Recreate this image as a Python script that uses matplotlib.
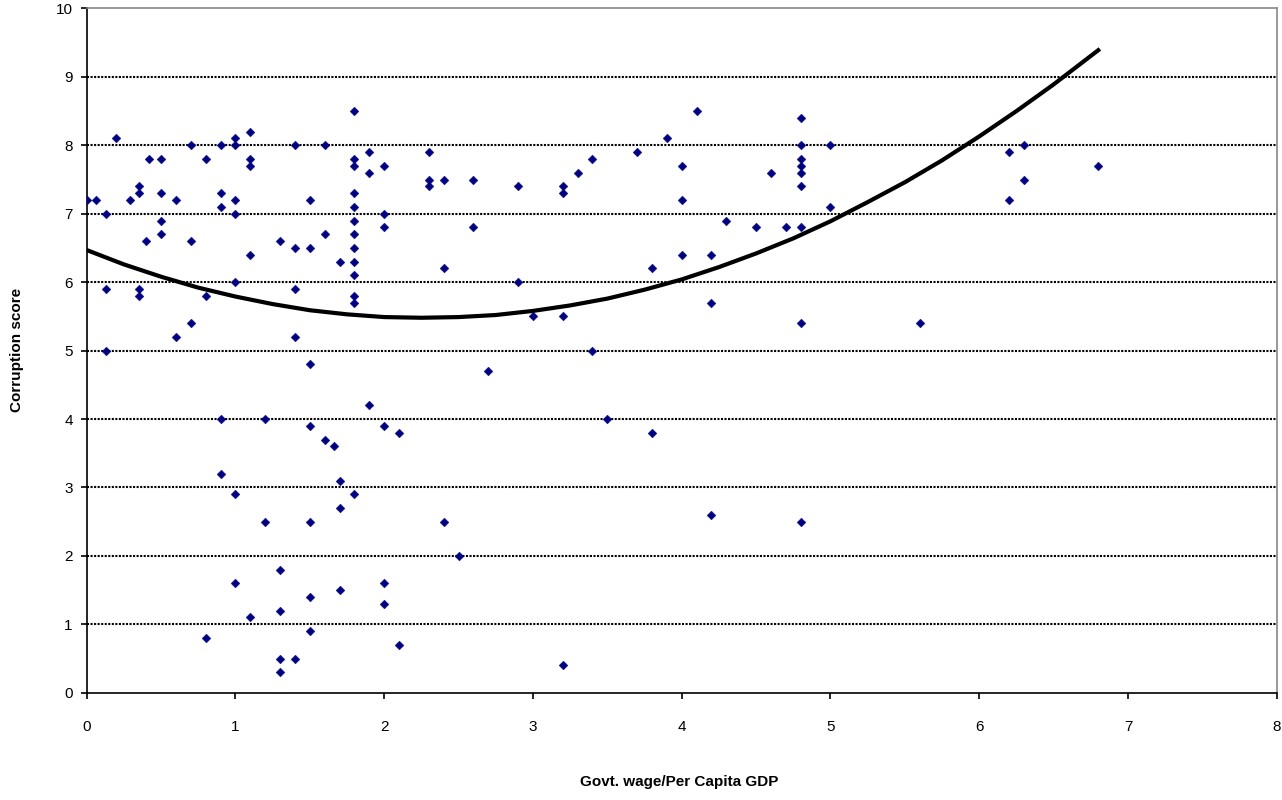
import matplotlib
matplotlib.use("Agg")
import numpy as np
from matplotlib import pyplot as plt

plt.rcParams['font.family'] = ['Liberation Sans', 'DejaVu Sans']

# scatter points (govt wage / per capita GDP, corruption score)
wage = [1.8, 0.2, 1.1, 1.0, 1.0, 0.7, 0.9, 1.4, 1.6, 1.9,
        0.42, 0.5, 0.8, 1.1, 1.1, 1.8, 1.8, 1.9, 0.35, 0.35,
        0.5, 0.9, 1.8, 0.0, 0.06, 0.29, 0.6, 1.0, 1.5, 0.13,
        0.9, 1.0, 1.8, 0.5, 1.8, 0.5, 1.6, 1.8, 0.4, 0.7,
        1.3, 1.4, 1.5, 1.8, 1.1, 1.7, 1.8, 1.8, 1.0, 0.13,
        0.35, 0.35, 0.8, 1.4, 1.8, 1.8, 0.7, 0.6, 1.4, 0.13,
        1.5, 1.9, 0.9, 1.2, 1.5, 1.6, 1.66, 0.9, 1.7, 1.0,
        1.8, 1.7, 1.2, 1.5, 1.3, 1.0, 1.7, 1.5, 1.1, 1.3,
        1.5, 0.8, 1.3, 1.4, 1.3,
        2.0, 2.3, 2.3, 2.3, 2.4, 2.6, 2.9, 3.2, 3.2, 3.3,
        3.4, 3.7, 3.9, 2.0, 2.0, 2.6, 2.4, 2.9, 3.8, 3.0,
        3.2, 3.4, 2.7, 2.0, 2.1, 3.5, 3.8, 2.4, 2.5, 2.0,
        2.0, 2.1, 3.2,
        4.1, 4.8, 4.8, 5.0, 4.8, 4.8, 4.8, 4.8, 4.0, 4.6,
        4.0, 5.0, 4.3, 4.5, 4.7, 4.8, 4.0, 4.2, 4.2, 4.8,
        5.6, 4.2, 4.8,
        6.2, 6.3, 6.8, 6.3, 6.2]
score = [8.5, 8.1, 8.2, 8.1, 8.0, 8.0, 8.0, 8.0, 8.0, 7.9,
         7.8, 7.8, 7.8, 7.8, 7.7, 7.8, 7.7, 7.6, 7.4, 7.3,
         7.3, 7.3, 7.3, 7.2, 7.2, 7.2, 7.2, 7.2, 7.2, 7.0,
         7.1, 7.0, 7.1, 6.9, 6.9, 6.7, 6.7, 6.7, 6.6, 6.6,
         6.6, 6.5, 6.5, 6.5, 6.4, 6.3, 6.3, 6.1, 6.0, 5.9,
         5.9, 5.8, 5.8, 5.9, 5.8, 5.7, 5.4, 5.2, 5.2, 5.0,
         4.8, 4.2, 4.0, 4.0, 3.9, 3.7, 3.6, 3.2, 3.1, 2.9,
         2.9, 2.7, 2.5, 2.5, 1.8, 1.6, 1.5, 1.4, 1.1, 1.2,
         0.9, 0.8, 0.5, 0.5, 0.3,
         7.7, 7.9, 7.5, 7.4, 7.5, 7.5, 7.4, 7.4, 7.3, 7.6,
         7.8, 7.9, 8.1, 7.0, 6.8, 6.8, 6.2, 6.0, 6.2, 5.5,
         5.5, 5.0, 4.7, 3.9, 3.8, 4.0, 3.8, 2.5, 2.0, 1.6,
         1.3, 0.7, 0.4,
         8.5, 8.4, 8.0, 8.0, 7.8, 7.7, 7.6, 7.4, 7.7, 7.6,
         7.2, 7.1, 6.9, 6.8, 6.8, 6.8, 6.4, 6.4, 5.7, 5.4,
         5.4, 2.6, 2.5,
         7.9, 8.0, 7.7, 7.5, 7.2]

# trend curve
trend_x = [0, 0.25, 0.5, 0.75, 1.0, 1.25, 1.5, 1.75, 2.0, 2.25,
           2.5, 2.75, 3.0, 3.25, 3.5, 3.75, 4.0, 4.25, 4.5, 4.75,
           5.0, 5.25, 5.5, 5.75, 6.0, 6.25, 6.5, 6.8]
trend_y = [6.47, 6.26, 6.08, 5.92, 5.79, 5.68, 5.59, 5.53, 5.49, 5.48,
           5.49, 5.52, 5.58, 5.66, 5.76, 5.89, 6.04, 6.22, 6.42, 6.64,
           6.89, 7.17, 7.46, 7.78, 8.13, 8.50, 8.89, 9.39]

fig = plt.figure(figsize=(12.82, 8.0), dpi=100)
ax = fig.add_axes([0.0676, 0.1341, 0.9283, 0.8553])

for yy in range(1, 10):
    ax.axhline(yy, color='black', linestyle=(0, (1, 0.7)), linewidth=1.5, zorder=1)

ax.scatter(wage, score, marker='D', s=20, color='#000080', edgecolors='#000080',
           linewidths=0.3, zorder=3)
ax.plot(trend_x, trend_y, color='black', linewidth=3, zorder=4)

ax.set_xlim(0, 8)
ax.set_ylim(0, 10)
ax.set_xticks(range(0, 9))
ax.set_yticks(range(0, 11))

for side in ['top', 'right']:
    ax.spines[side].set_color('#888888')
    ax.spines[side].set_linestyle((0, (1, 1)))
    ax.spines[side].set_linewidth(1.2)
for side in ['left', 'bottom']:
    ax.spines[side].set_color('black')
    ax.spines[side].set_linewidth(1.2)

ax.tick_params(axis='x', direction='out', length=4, width=1.2, pad=16, labelsize=11)
ax.tick_params(axis='y', direction='out', length=4, width=1.2, pad=6, labelsize=11)

# axis titles placed like the original
fig.text(0.530, 0.0225, "Govt. wage/Per Capita GDP", fontsize=11, fontweight='bold',
         ha='center', va='center')
fig.text(0.0133, 0.5625, "Corruption score", fontsize=11, fontweight='bold',
         rotation=90, ha='center', va='center')

plt.savefig("out.png", dpi=100)
